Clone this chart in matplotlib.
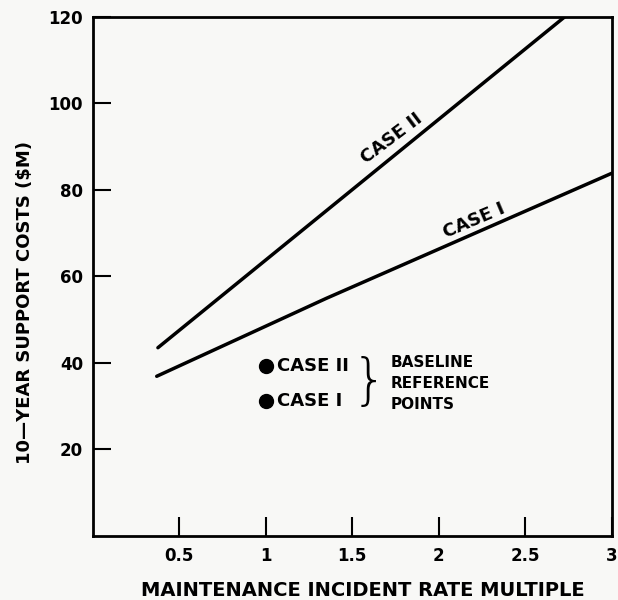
import matplotlib.pyplot as plt

# Curve data
case1_x = [0.37, 1.35, 3.0]
case1_y = [36.9, 54.9, 83.8]
case2_x = [0.377, 2.73]
case2_y = [43.5, 120.0]

# Baseline reference points
ref_x = [1.0, 1.0]
ref_y = [39.3, 31.2]
ref_labels = ["CASE II", "CASE I"]

x_ticks = [0.5, 1, 1.5, 2, 2.5, 3]
x_tick_labels = ["0.5", "1", "1.5", "2", "2.5", "3"]
y_ticks = [20, 40, 60, 80, 100, 120]

BG = "#f8f8f6"
FONT = "DejaVu Sans"

fig = plt.figure(figsize=(6.18, 6.0), dpi=100, facecolor=BG)
ax = fig.add_axes([0.150, 0.1067, 0.8398, 0.8656], facecolor=BG)

ax.plot(case1_x, case1_y, color="black", lw=2.5, solid_capstyle="round")
ax.plot(case2_x, case2_y, color="black", lw=2.5, solid_capstyle="round")
ax.plot(ref_x, ref_y, "o", color="black", ms=10)

ax.set_xlim(0, 3)
ax.set_ylim(0, 120)
ax.set_xticks(x_ticks)
ax.set_xticklabels(x_tick_labels)
ax.set_yticks(y_ticks)

for s in ax.spines.values():
    s.set_linewidth(2.0)
ax.tick_params(axis="both", direction="in", width=1.5, labelsize=12)
ax.tick_params(axis="x", length=14, pad=8)
ax.tick_params(axis="y", length=13, pad=7)
for lab in ax.get_xticklabels() + ax.get_yticklabels():
    lab.set_fontfamily(FONT)
    lab.set_fontweight("bold")

ax.set_xlabel("MAINTENANCE INCIDENT RATE MULTIPLE", fontsize=14,
              fontweight="bold", fontfamily=FONT)
ax.xaxis.set_label_coords(0.52, -0.086)
ax.set_ylabel("10\u2014YEAR SUPPORT COSTS ($M)", fontsize=13,
              fontweight="bold", fontfamily=FONT)
ax.yaxis.set_label_coords(-0.114, 0.45)

# Curve labels
ax.text(1.73, 91.8, "CASE II", rotation=37, ha="center", va="center",
        fontsize=13, fontweight="bold", fontfamily=FONT)
ax.text(2.205, 72.9, "CASE I", rotation=23, ha="center", va="center",
        fontsize=13, fontweight="bold", fontfamily=FONT)

# Reference point labels
for x, y, lab in zip(ref_x, ref_y, ref_labels):
    ax.text(x + 0.065, y, lab, ha="left", va="center",
            fontsize=13, fontweight="bold", fontfamily=FONT)

ax.text(1.6, 35.3, "}", ha="center", va="center", fontsize=40,
        fontfamily="DejaVu Sans", fontweight="light")
ax.text(1.72, 35.3, "BASELINE\nREFERENCE\nPOINTS", ha="left", va="center",
        fontsize=11, fontweight="bold", fontfamily=FONT, linespacing=1.5)

fig.savefig("out.png", dpi=100, facecolor=BG)
